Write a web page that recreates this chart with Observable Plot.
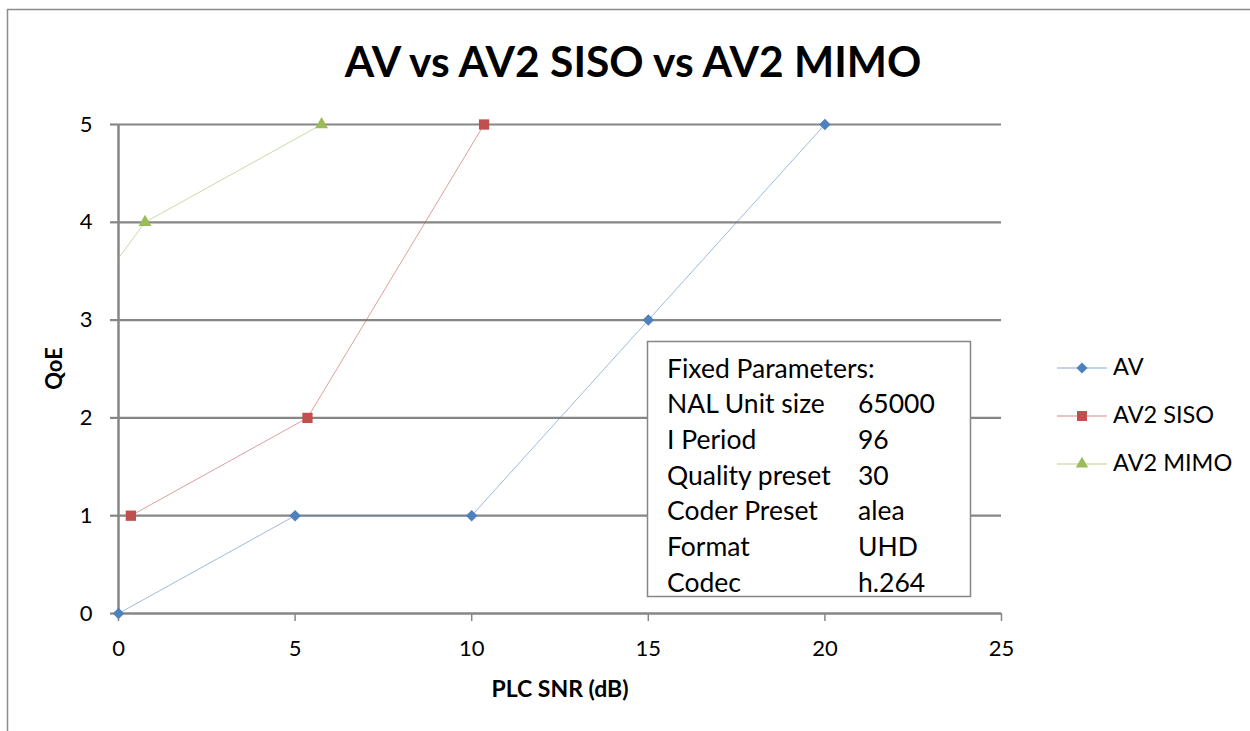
<!DOCTYPE html>
<html><head><meta charset="utf-8">
<script src="https://cdn.jsdelivr.net/npm/d3@7"></script>
<script src="https://cdn.jsdelivr.net/npm/@observablehq/plot@0.6"></script>
<style>
body{margin:0;background:#fff;}
#chart{width:1250px;height:731px;overflow:hidden;}
</style></head>
<body><div id="chart"></div>
<script>
// ---- data ----
const seriesNames = ["AV", "AV2 SISO", "AV2 MIMO"];
const seriesColors = ["#4F81BD", "#C0504D", "#9BBB59"];
const seriesSymbols = ["diamond2", "square", "triangle"];
const snrAV = [0, 5, 10, 15, 20];
const qoeAV = [0, 1, 1, 3, 5];
const snrSISO = [0.35, 5.35, 10.35];
const qoeSISO = [1, 2, 5];
// first MIMO point lies left of the visible axis (line enters at SNR 0)
const snrMIMO = [-1.3, 0.75, 5.75];
const qoeMIMO = [3, 4, 5];
const xTicks = [0, 5, 10, 15, 20, 25];
const yTicks = [0, 1, 2, 3, 4, 5];
const paramNames = ["NAL Unit size", "I Period", "Quality preset", "Coder Preset", "Format", "Codec"];
const paramValues = ["65000", "96", "30", "alea", "UHD", "h.264"];

const rows = [];
[[snrAV, qoeAV], [snrSISO, qoeSISO], [snrMIMO, qoeMIMO]].forEach(([xs, ys], i) => {
  xs.forEach((x, j) => rows.push({series: seriesNames[i], snr: x, qoe: ys[j]}));
});
const visible = rows.filter(d => d.snr >= 0);

const FONT = "Lato, 'Open Sans', sans-serif";
const GRAY = "#868686";

const chart = Plot.plot({
  width: 1250, height: 731,
  marginLeft: 118, marginRight: 249, marginTop: 124, marginBottom: 118,
  style: {fontFamily: FONT, fontSize: "22px", color: "black", background: "white"},
  x: {domain: [0, 25]},
  y: {domain: [0, 5]},
  color: {domain: seriesNames, range: seriesColors},
  symbol: {domain: seriesNames, range: seriesSymbols},
  marks: [
    Plot.gridY(yTicks.slice(1), {stroke: GRAY, strokeOpacity: 1, strokeWidth: 2.2}),
    Plot.axisY(yTicks, {tickSize: 8, tickPadding: 18, stroke: GRAY, strokeWidth: 2.2, fill: "black", label: null, fontSize: 22, tickFormat: d3.format("d")}),
    Plot.axisX(xTicks, {tickSize: 8, tickPadding: 19, stroke: GRAY, strokeWidth: 1.5, fill: "black", label: null, fontSize: 22, tickFormat: d3.format("d")}),
    Plot.ruleX([0], {stroke: GRAY, strokeWidth: 2.5}),
    Plot.ruleY([0], {stroke: GRAY, strokeWidth: 2.5}),
    Plot.line(rows, {x: "snr", y: "qoe", z: "series", stroke: "series", strokeWidth: 1, strokeOpacity: 0.55, clip: true}),
    Plot.dot(visible.filter(d => d.series === "AV"), {x: "snr", y: "qoe", symbol: "series", fill: "series", r: 5.2}),
    Plot.dot(visible.filter(d => d.series === "AV2 SISO"), {x: "snr", y: "qoe", symbol: "series", fill: "series", r: 5.8}),
    Plot.dot(visible.filter(d => d.series === "AV2 MIMO"), {x: "snr", y: "qoe", symbol: "series", fill: "series", r: 4.8})
  ]
});
document.getElementById("chart").appendChild(chart);

const svg = d3.select(chart);
const g = svg.append("g").attr("font-family", FONT).attr("fill", "black").attr("text-anchor", "start");
// outer frame
svg.insert("rect", ":first-child").attr("x", 7.5).attr("y", 9.5).attr("width", 1400).attr("height", 900)
  .attr("fill", "white").attr("stroke", "#8c8c8c").attr("stroke-width", 1.5);
// title
g.append("text").attr("x", 633).attr("y", 77).attr("text-anchor", "middle")
  .attr("font-size", 42.5).attr("font-weight", "bold").text("AV vs AV2 SISO vs AV2 MIMO");
// axis titles
g.append("text").attr("transform", "translate(62,368.5) rotate(-90)").attr("text-anchor", "middle")
  .attr("font-size", 22).attr("font-weight", "bold").text("QoE");
g.append("text").attr("x", 560).attr("y", 697).attr("text-anchor", "middle")
  .attr("font-size", 23).attr("font-weight", "bold").text("PLC SNR (dB)");
// parameter box
g.append("rect").attr("x", 647.5).attr("y", 341.5).attr("width", 323).attr("height", 255)
  .attr("fill", "white").attr("stroke", GRAY).attr("stroke-width", 1.5);
g.append("text").attr("x", 667).attr("y", 378).attr("font-size", 26.5).text("Fixed Parameters:");
paramNames.forEach((p, i) => {
  const y = 413 + i * 35.8;
  g.append("text").attr("x", 667).attr("y", y).attr("font-size", 26.5).text(p);
  g.append("text").attr("x", 858).attr("y", y).attr("font-size", 26.5).text(paramValues[i]);
});
// legend
const symMap = {diamond2: d3.symbolDiamond2, square: d3.symbolSquare, triangle: d3.symbolTriangle};
const symSize = {diamond2: 80, square: 100, triangle: 66};
seriesNames.forEach((name, i) => {
  const cy = 368 + i * 48;
  g.append("line").attr("x1", 1057).attr("x2", 1107).attr("y1", cy).attr("y2", cy)
    .attr("stroke", seriesColors[i]).attr("stroke-opacity", 0.45).attr("stroke-width", 1.5);
  g.append("path").attr("transform", `translate(1082,${cy})`)
    .attr("d", d3.symbol(symMap[seriesSymbols[i]], symSize[seriesSymbols[i]])())
    .attr("fill", seriesColors[i]);
  g.append("text").attr("x", 1113).attr("y", cy + 7).attr("font-size", 23.5).text(name);
});
</script>
</body></html>
